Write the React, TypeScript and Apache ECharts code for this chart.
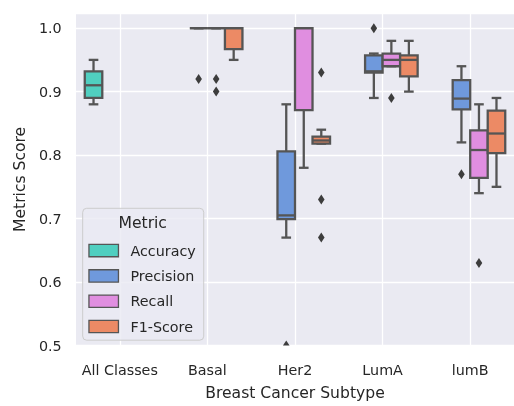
import React, { useEffect, useRef } from 'react';
import * as echarts from 'echarts';

const categories = ['All Classes', 'Basal', 'Her2', 'LumA', 'lumB'];
const metrics = ['Accuracy', 'Precision', 'Recall', 'F1-Score'];
const metricColors = ['#50CFC0', '#6F99DC', '#E08EE0', '#EC8A65'];

// [whiskerLow, q1, median, q3, whiskerHigh] per category; null = no box
const accuracyStats = [[0.88, 0.89, 0.91, 0.932, 0.95], null, null, null, null];
const precisionStats = [
  null,
  [1.0, 1.0, 1.0, 1.0, 1.0],
  [0.67, 0.699, 0.705, 0.806, 0.88],
  [0.89, 0.93, 0.932, 0.957, 0.96],
  [0.82, 0.872, 0.889, 0.918, 0.94],
];
const recallStats = [
  null,
  [1.0, 1.0, 1.0, 1.0, 1.0],
  [0.78, 0.871, 1.0, 1.0, 1.0],
  [0.94, 0.94, 0.95, 0.96, 0.98],
  [0.74, 0.764, 0.808, 0.839, 0.88],
];
const f1Stats = [
  null,
  [0.95, 0.967, 1.0, 1.0, 1.0],
  [0.818, 0.818, 0.823, 0.829, 0.84],
  [0.9, 0.924, 0.95, 0.957, 0.98],
  [0.75, 0.803, 0.834, 0.87, 0.89],
];
const allStats = [accuracyStats, precisionStats, recallStats, f1Stats];

// [categoryIndex, metricIndex, value]
const outliers = [
  [1, 1, 0.92],
  [1, 2, 0.92],
  [1, 2, 0.9],
  [2, 1, 0.5],
  [2, 3, 0.93],
  [2, 3, 0.73],
  [2, 3, 0.67],
  [3, 1, 1.0],
  [3, 2, 0.89],
  [4, 1, 0.77],
  [4, 2, 0.63],
];

const yTicks = [0.5, 0.6, 0.7, 0.8, 0.9, 1.0];

const EDGE = '#555555';
const LW = 2.3;
const TEXT = '#262626';
const FONT = 'DejaVu Sans';
const HUE_WIDTH = 0.2;
const hueOffset = (h: number) => -0.3 + HUE_WIDTH * h;

function makeBoxRender(h: number) {
  return (params: any, api: any) => {
    const cat = api.value(0);
    const band = api.size([1, 0])[0];
    const w = band * HUE_WIDTH;
    const cx = api.coord([cat, 0.7])[0] + band * hueOffset(h);
    const y = (v: number) => api.coord([cat, v])[1];
    const yLo = y(api.value(1));
    const yQ1 = y(api.value(2));
    const yMed = y(api.value(3));
    const yQ3 = y(api.value(4));
    const yHi = y(api.value(5));
    const ls = { stroke: EDGE, lineWidth: LW, fill: 'none' };
    const cap = w * 0.55;
    return {
      type: 'group',
      children: [
        { type: 'line', shape: { x1: cx, y1: yQ1, x2: cx, y2: yLo }, style: ls },
        { type: 'line', shape: { x1: cx, y1: yQ3, x2: cx, y2: yHi }, style: ls },
        { type: 'line', shape: { x1: cx - cap / 2, y1: yLo, x2: cx + cap / 2, y2: yLo }, style: ls },
        { type: 'line', shape: { x1: cx - cap / 2, y1: yHi, x2: cx + cap / 2, y2: yHi }, style: ls },
        {
          type: 'rect',
          shape: { x: cx - w / 2, y: yQ3, width: w, height: yQ1 - yQ3 },
          style: { fill: metricColors[h], stroke: EDGE, lineWidth: LW },
        },
        { type: 'line', shape: { x1: cx - w / 2, y1: yMed, x2: cx + w / 2, y2: yMed }, style: ls },
      ],
    };
  };
}

function outlierRender(params: any, api: any) {
  const cat = api.value(0);
  const h = api.value(1);
  const band = api.size([1, 0])[0];
  const p = api.coord([cat, api.value(2)]);
  const cx = p[0] + band * hueOffset(h);
  const cy = p[1];
  return {
    type: 'polygon',
    shape: {
      points: [
        [cx, cy - 5],
        [cx + 3.3, cy],
        [cx, cy + 5],
        [cx - 3.3, cy],
      ],
    },
    style: { fill: '#3d3d3d' },
  };
}

export default function App() {
  const ref = useRef<HTMLDivElement>(null);
  useEffect(() => {
    if (!ref.current) return;
    const chart = echarts.init(ref.current, null, { renderer: 'svg' });
    const boxSeries = metrics.map((m, h) => ({
      type: 'custom',
      name: m,
      renderItem: makeBoxRender(h),
      itemStyle: { color: metricColors[h] },
      encode: { x: 0, y: [1, 2, 3, 4, 5] },
      data: allStats[h]
        .map((s, i) => (s ? [i, ...s] : null))
        .filter((d) => d !== null),
      z: 2,
    }));
    chart.setOption({
      animation: false,
      textStyle: { fontFamily: FONT, color: TEXT },
      grid: {
        left: 76,
        top: 13.3,
        width: 447.5,
        height: 335,
        show: true,
        backgroundColor: '#EAEAF2',
        borderWidth: 0,
      },
      xAxis: {
        type: 'category',
        data: categories,
        name: 'Breast Cancer Subtype',
        nameLocation: 'middle',
        nameGap: 39.5,
        nameTextStyle: { fontSize: 15.6, color: TEXT, fontFamily: FONT },
        axisLine: { show: false },
        axisTick: { show: false, alignWithLabel: true, interval: 0 },
        axisLabel: { fontSize: 14.3, color: TEXT, margin: 17, fontFamily: FONT, interval: 0 },
        splitLine: {
          show: true,
          alignWithLabel: true,
          interval: 0,
          lineStyle: { color: '#ffffff', width: 1.3 },
        },
      },
      yAxis: {
        type: 'value',
        min: 0.5,
        max: 1.0234,
        interval: 0.1,
        name: 'Metrics Score',
        nameLocation: 'middle',
        nameGap: 42,
        nameTextStyle: { fontSize: 15.6, color: TEXT, fontFamily: FONT },
        axisLine: { show: false },
        axisTick: { show: false },
        axisLabel: {
          fontSize: 14.3,
          color: TEXT,
          margin: 14.3,
          fontFamily: FONT,
          showMaxLabel: false,
          formatter: (v: number) =>
            yTicks.some((t) => Math.abs(t - v) < 1e-6) ? v.toFixed(1) : '',
        },
        splitLine: { show: true, lineStyle: { color: '#ffffff', width: 1.3 } },
      },
      legend: {
        orient: 'vertical',
        left: 82.7,
        top: 208.3,
        data: metrics.map((m) => ({ name: m, icon: 'rect' })),
        itemWidth: 29.5,
        itemHeight: 12.3,
        itemGap: 11.3,
        padding: [35.3, 8, 6.7, 5.6],
        backgroundColor: 'rgba(234,234,242,0.8)',
        borderColor: '#cccccc',
        borderWidth: 1,
        borderRadius: 4,
        itemStyle: { borderColor: EDGE, borderWidth: 1.3 },
        textStyle: { fontSize: 14.3, color: TEXT, fontFamily: FONT, padding: [0, 0, 0, 7] },
        selectedMode: false,
      },
      graphic: [
        {
          type: 'text',
          x: 142.7,
          y: 223.3,
          style: {
            text: 'Metric',
            fontSize: 15.6,
            fontFamily: FONT,
            fill: TEXT,
            textAlign: 'center',
            textVerticalAlign: 'middle',
          },
          z: 100,
        },
      ],
      series: [
        ...boxSeries,
        {
          type: 'custom',
          name: 'outliers',
          renderItem: outlierRender,
          encode: { x: 0, y: 2 },
          data: outliers,
          clip: true,
          z: 3,
        },
      ],
    });
    return () => chart.dispose();
  }, []);
  return (
    <div
      ref={ref}
      style={{ position: 'fixed', left: 0, top: 0, width: 514, height: 406 }}
    />
  );
}
